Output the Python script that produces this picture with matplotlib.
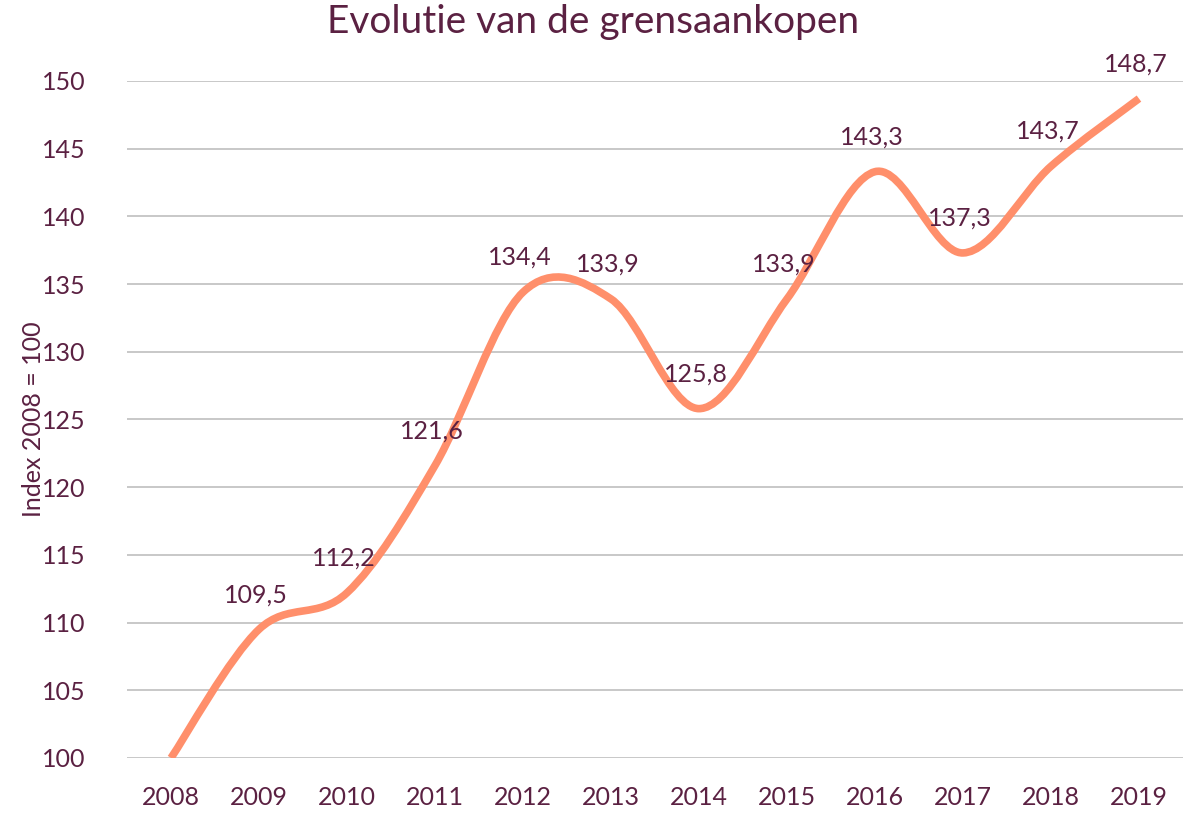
import numpy as np
import matplotlib.pyplot as plt
from matplotlib.path import Path
from matplotlib.patches import PathPatch

years = ['2008', '2009', '2010', '2011', '2012', '2013', '2014', '2015', '2016', '2017', '2018', '2019']
index = [100, 109.5, 112.2, 121.6, 134.4, 133.9, 125.8, 133.9, 143.3, 137.3, 143.7, 148.7]
labels = ['', '109,5', '112,2', '121,6', '134,4', '133,9', '125,8', '133,9', '143,3', '137,3', '143,7', '148,7']

txt = '#5b2142'
line_col = '#ff8f6b'

plt.rcParams['font.family'] = ['Lato', 'DejaVu Sans']

fig = plt.figure(figsize=(11.87, 8.13), dpi=100)
ax = fig.add_axes([0.107, 0.0677, 0.8896, 0.8327])

x = np.arange(len(years))
y = np.array(index, dtype=float)

# smooth line like excel (bezier through the points)
verts = [(x[0], y[0])]
codes = [Path.MOVETO]
n = len(x)
for i in range(n - 1):
    p0 = np.array([x[max(i - 1, 0)], y[max(i - 1, 0)]])
    p1 = np.array([x[i], y[i]])
    p2 = np.array([x[i + 1], y[i + 1]])
    p3 = np.array([x[min(i + 2, n - 1)], y[min(i + 2, n - 1)]])
    c1 = p1 + (p2 - p0) / 6
    c2 = p2 - (p3 - p1) / 6
    verts += [tuple(c1), tuple(c2), tuple(p2)]
    codes += [Path.CURVE4] * 3
ax.add_patch(PathPatch(Path(verts, codes), facecolor='none', edgecolor=line_col,
                       lw=5.5, capstyle='butt', joinstyle='round', zorder=3))

for xi, yi, lab in zip(x, y, labels):
    if lab:
        ax.annotate(lab, (xi, yi), xytext=(-2, 25), textcoords='offset points',
                    ha='center', va='center', fontsize=18, color=txt, zorder=4)

ax.set_xlim(-0.5, n - 0.5)
ax.set_ylim(100, 150)
ax.set_yticks(range(100, 151, 5))
ax.set_xticks(x)
ax.set_xticklabels(years)
ax.grid(axis='y', color='#bfbfbf', lw=1.2)
ax.set_axisbelow(True)
for s in ax.spines.values():
    s.set_visible(False)
ax.tick_params(length=0, labelsize=18, labelcolor=txt)
ax.tick_params(axis='x', pad=20)
ax.tick_params(axis='y', pad=30)
ax.set_ylabel('Index 2008 = 100', fontsize=18, color=txt)
ax.yaxis.set_label_coords(-0.078, 0.5)
fig.suptitle('Evolutie van de grensaankopen', fontsize=28, color=txt, x=0.5, y=0.995, va='top')

fig.savefig('out.png', dpi=100)
